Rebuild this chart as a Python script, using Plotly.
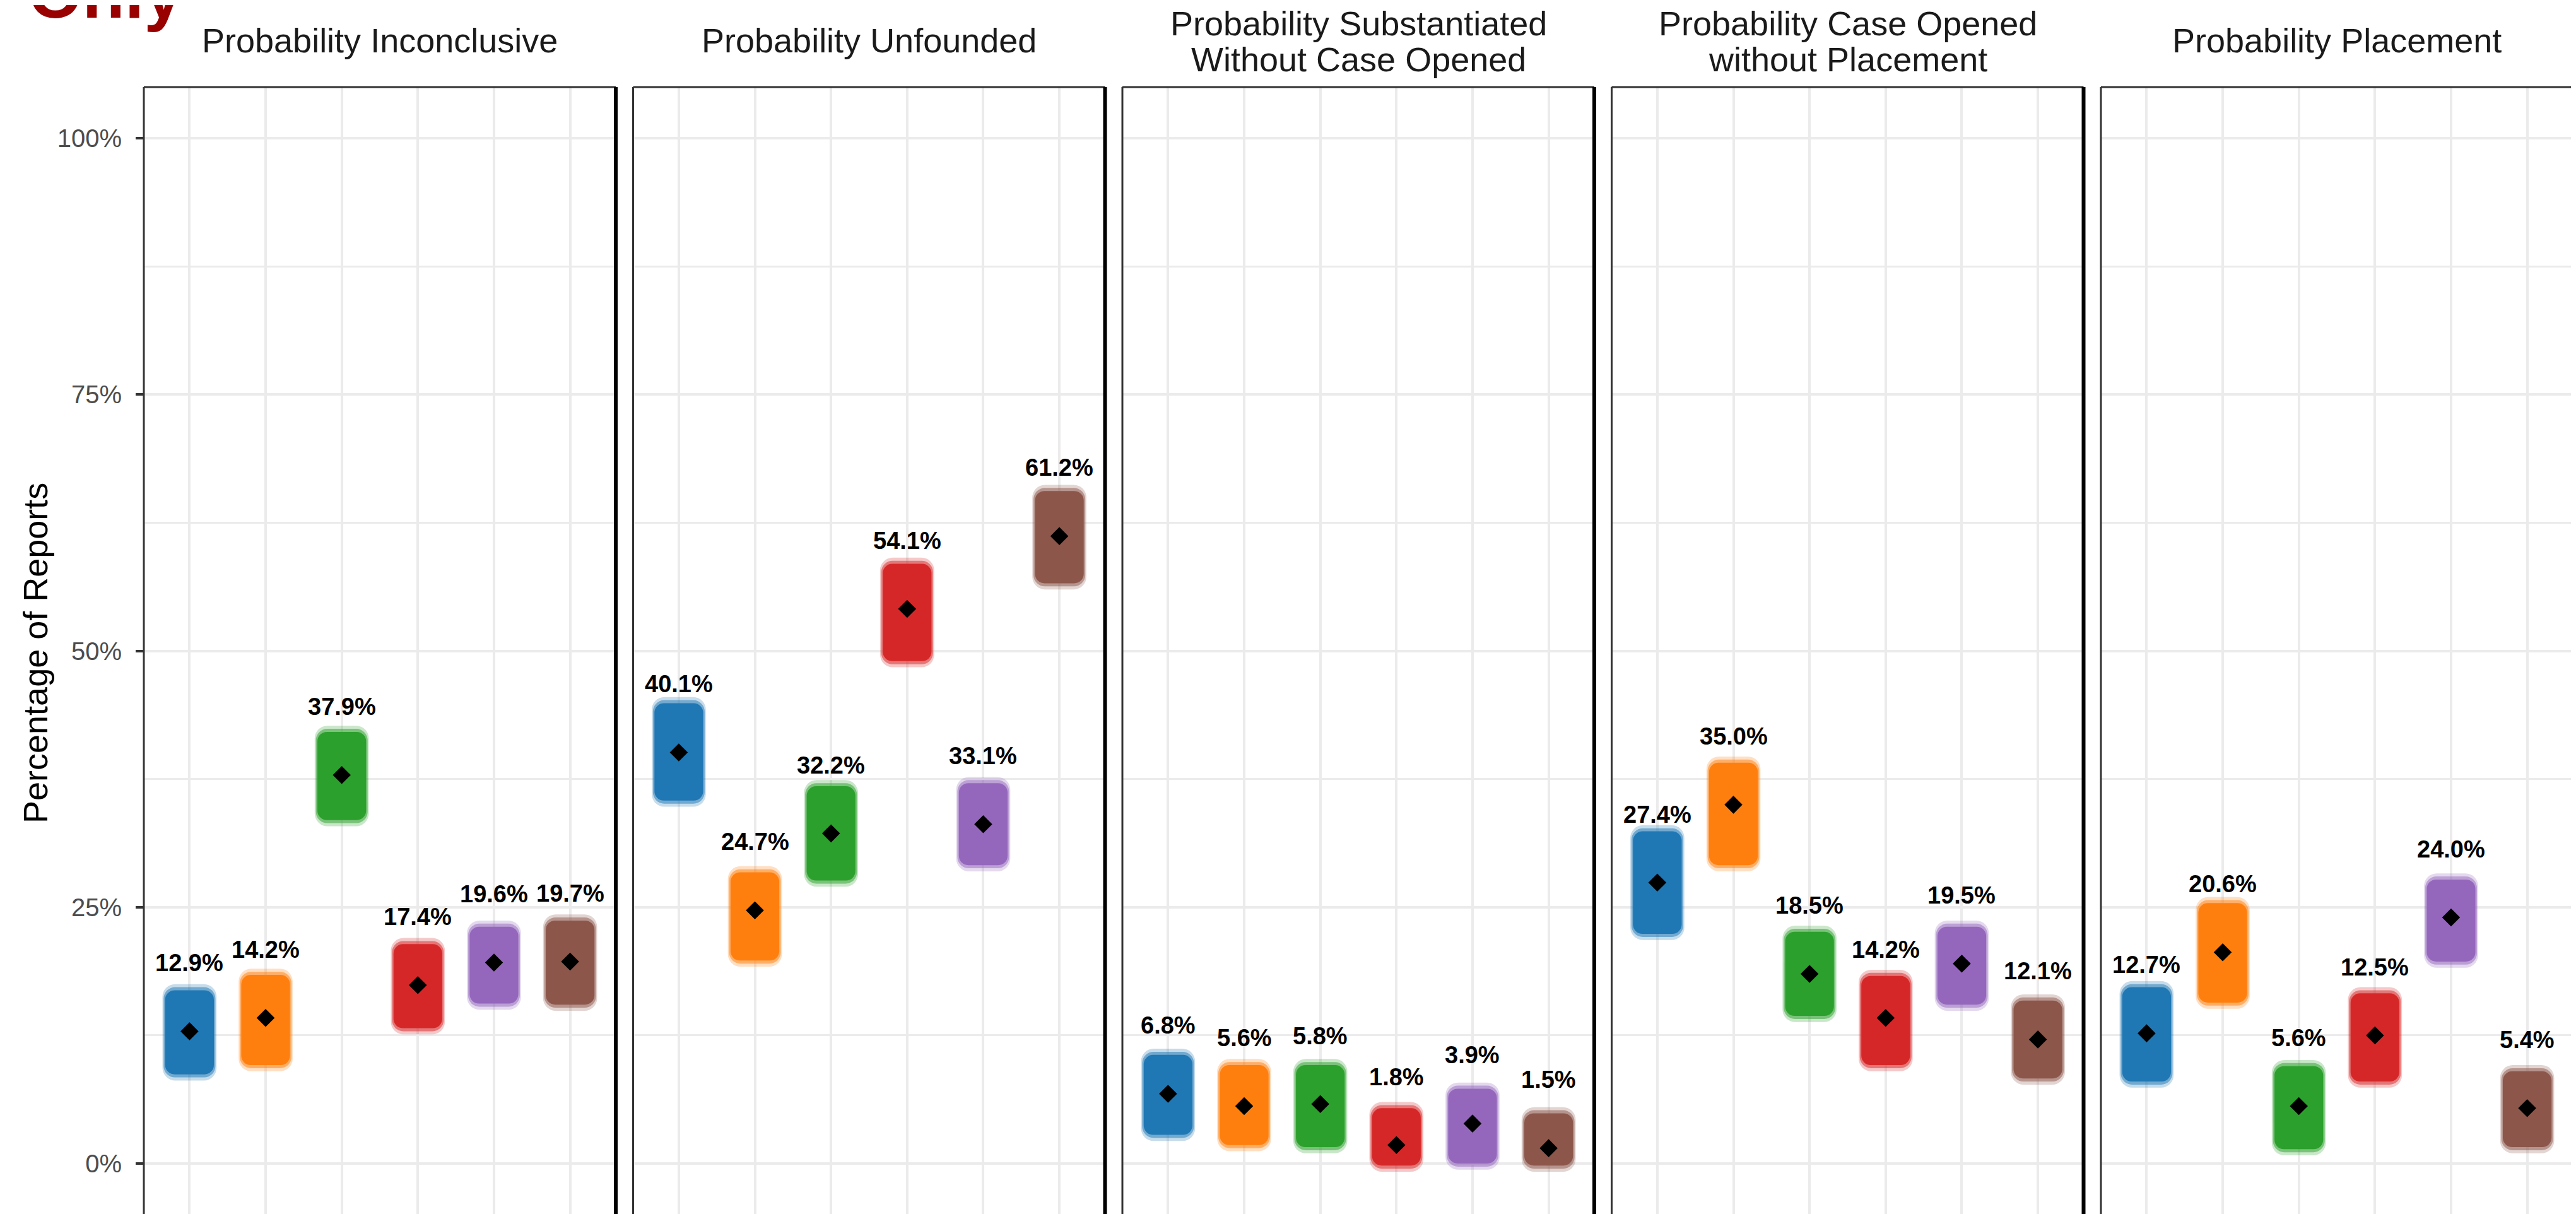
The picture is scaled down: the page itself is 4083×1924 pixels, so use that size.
import plotly.graph_objects as go

W, H = 4083, 1924
OFF = 8  # page body margin in the browser
FONT = "Liberation Sans, Arial, sans-serif"

GROUPS = [1, 2, 3, 4, 5, 6]
COLORS = ["#1f77b4", "#ff7f0e", "#2ca02c", "#d62728", "#9467bd", "#8c564b"]

PANEL_TITLES = [
    ["Probability Inconclusive"],
    ["Probability Unfounded"],
    ["Probability Substantiated", "Without Case Opened"],
    ["Probability Case Opened", "without Placement"],
    ["Probability Placement"],
]

# mean probability (%) per group, one list per panel
mean_inconclusive = [12.9, 14.2, 37.9, 17.4, 19.6, 19.7]
mean_unfounded = [40.1, 24.7, 32.2, 54.1, 33.1, 61.2]
mean_subst_no_case = [6.8, 5.6, 5.8, 1.8, 3.9, 1.5]
mean_case_no_place = [27.4, 35.0, 18.5, 14.2, 19.5, 12.1]
mean_placement = [12.7, 20.6, 5.6, 12.5, 24.0, 5.4]

# extent of the simulated (jittered) draws, low / high (%)
low_inconclusive = [8.1, 9.0, 32.9, 12.6, 15.0, 14.9]
high_inconclusive = [17.5, 19.0, 42.7, 22.0, 23.7, 24.3]
low_unfounded = [34.8, 19.2, 27.0, 48.4, 28.5, 56.0]
high_unfounded = [45.5, 29.0, 37.4, 59.1, 37.7, 66.2]
low_subst_no_case = [2.2, 1.2, 1.0, -0.8, -0.6, -0.8]
high_subst_no_case = [11.2, 10.2, 10.2, 6.0, 7.9, 5.5]
low_case_no_place = [21.8, 28.5, 13.8, 9.0, 14.9, 7.7]
high_case_no_place = [33.0, 39.7, 23.2, 18.9, 23.7, 16.5]
low_placement = [7.4, 15.1, 0.8, 7.4, 19.1, 1.0]
high_placement = [17.8, 26.0, 10.1, 17.2, 28.3, 9.6]

MEANS = [mean_inconclusive, mean_unfounded, mean_subst_no_case,
         mean_case_no_place, mean_placement]
LOWS = [low_inconclusive, low_unfounded, low_subst_no_case,
        low_case_no_place, low_placement]
HIGHS = [high_inconclusive, high_unfounded, high_subst_no_case,
         high_case_no_place, high_placement]

Y_TICKS = [0, 25, 50, 75, 100]
Y_MINOR = [12.5, 37.5, 62.5, 87.5]

# layout in page pixels (ggplot facet geometry)
PANEL_LEFT0, PANEL_STEP, PANEL_W = 228, 775.5, 748
PANEL_TOP = 138
Y_TOP = 105
Y_BOTTOM = -(H + OFF - 1844) / 16.25   # value at the figure's bottom edge
LABEL_OFFSET = 5.8
GRID = "#EBEBEB"
TITLE_FS = 54

# soft edge of the point clouds: (inset in %, width in x units, opacity, radius)
CLOUD_LAYERS = [(0.0, 0.71, 0.25, 20), (0.3, 0.68, 0.5, 18), (0.6, 0.64, 1.0, 15)]


def px(p):
    return (p - OFF) / W


def py(p):
    return 1 - (p - OFF) / H


fig = go.Figure()
annotations = []
shapes = []

for i in range(5):
    n = "" if i == 0 else str(i + 1)
    xa, ya = "x" + n, "y" + n
    means, lows, highs = MEANS[i], LOWS[i], HIGHS[i]

    for inset, width, op, rad in CLOUD_LAYERS:
        fig.add_trace(go.Bar(
            x=GROUPS, y=[h - l - 2 * inset for h, l in zip(highs, lows)],
            base=[l + inset for l in lows], width=width,
            marker=dict(color=COLORS, line_width=0, cornerradius=rad),
            opacity=op, xaxis=xa, yaxis=ya, hoverinfo="skip",
        ))

    fig.add_trace(go.Scatter(
        x=GROUPS, y=means, mode="markers", xaxis=xa, yaxis=ya,
        marker=dict(symbol="diamond", size=22, color="black"),
    ))

    for g, m in zip(GROUPS, means):
        annotations.append(dict(
            x=g, y=m + LABEL_OFFSET, xref=xa, yref=ya, text=f"{m:.1f}%",
            showarrow=False, yanchor="bottom", yshift=-9,
            font=dict(family=FONT, size=38, color="black", weight="bold"),
        ))

    left = PANEL_LEFT0 + PANEL_STEP * i
    fig.update_layout(**{
        ("xaxis" if i == 0 else f"xaxis{i + 1}"): dict(
            domain=[px(left), px(left + PANEL_W)], range=[0.4, 6.6],
            tickvals=GROUPS, showticklabels=False, ticks="",
            showgrid=True, gridcolor=GRID, gridwidth=4, zeroline=False,
            anchor=ya,
        ),
        ("yaxis" if i == 0 else f"yaxis{i + 1}"): dict(
            domain=[0, py(PANEL_TOP)], range=[Y_BOTTOM, Y_TOP],
            tickvals=Y_TICKS, ticktext=[f"{v}%" for v in Y_TICKS],
            showticklabels=(i == 0), ticks="outside" if i == 0 else "",
            ticklen=12, tickwidth=4, tickcolor="#333333", ticklabelstandoff=14,
            tickfont=dict(family=FONT, size=40, color="#4D4D4D"),
            showgrid=True, gridcolor=GRID, gridwidth=4, zeroline=False,
            minor=dict(tickvals=Y_MINOR, showgrid=True, gridcolor=GRID,
                       gridwidth=3, ticks=""),
            anchor=xa,
        ),
    })

    # panel border (bottom edge lies below the visible area)
    dx, dy = xa + " domain", ya + " domain"
    shapes += [
        dict(type="line", xref=dx, yref=dy, x0=0, x1=0, y0=0, y1=1,
             line=dict(color="#333333", width=3)),
        dict(type="line", xref=dx, yref=dy, x0=0, x1=1, y0=1, y1=1,
             line=dict(color="#333333", width=3)),
        dict(type="line", xref=dx, yref=dy, x0=1, x1=1, y0=0, y1=1,
             line=dict(color="black", width=6)),
    ]

    # facet strip titles (no strip box)
    lines = PANEL_TITLES[i]
    baselines = [84] if len(lines) == 1 else [57, 114]
    for txt, base_px in zip(lines, baselines):
        annotations.append(dict(
            x=0.5, xref=dx, y=py(base_px + 0.212 * TITLE_FS + 1), yref="paper",
            text=txt, showarrow=False, xanchor="center", yanchor="bottom",
            font=dict(family=FONT, size=TITLE_FS, color="#1A1A1A"),
        ))

# y axis title
annotations.append(dict(
    x=px(56), y=py(1035), xref="paper", yref="paper",
    text="Percentage of Reports", textangle=-90, showarrow=False,
    xanchor="center", yanchor="middle",
    font=dict(family=FONT, size=54, color="black"),
))

# tail of the cropped plot title above
annotations.append(dict(
    x=px(43), y=py(53), xref="paper", yref="paper",
    text="Only", showarrow=False, xanchor="left", yanchor="bottom",
    font=dict(family=FONT, size=110, color="#990000", weight="bold"),
))

fig.update_layout(
    width=W, height=H,
    margin=dict(l=0, r=0, t=0, b=0),
    paper_bgcolor="white", plot_bgcolor="white",
    barmode="overlay", showlegend=False,
    annotations=annotations, shapes=shapes,
)

fig.write_html("out.html")
